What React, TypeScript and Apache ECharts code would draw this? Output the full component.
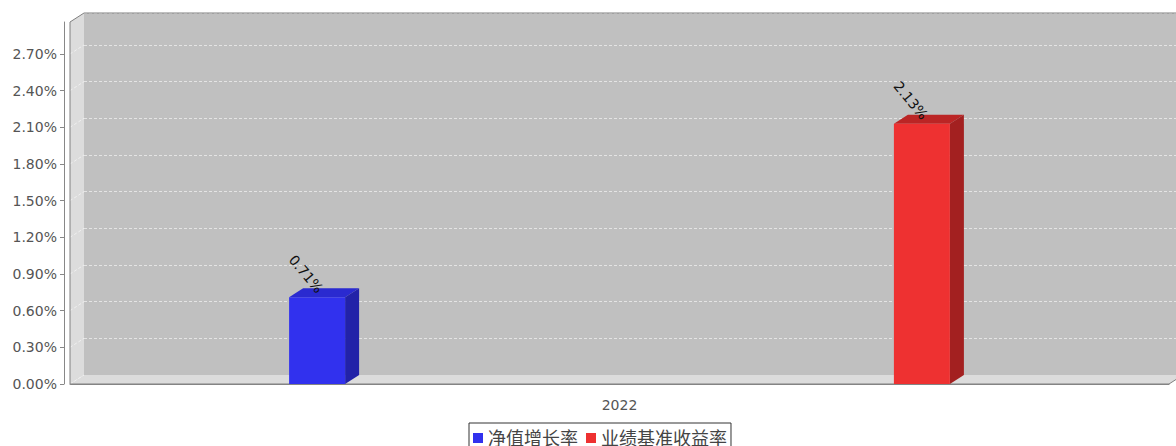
import React, { useEffect, useRef } from "react";
import * as echarts from "echarts";

const categories = ["2022"];
const seriesNames = ["净值增长率", "业绩基准收益率"];
const navGrowth = [0.71];
const benchmark = [2.13];
const yTicks = [0, 0.3, 0.6, 0.9, 1.2, 1.5, 1.8, 2.1, 2.4, 2.7];

const FRONT = ["#3131ee", "#ee3131"];
const TOPC = ["#2a2ad0", "#bb2525"];
const SIDEC = ["#2222a8", "#a32020"];

const DX = 14;
const DY = 9;
const BAR_W = 56;
const BAR_GAP = 9.8; // as ratio of bar width
const FONT = "'DejaVu Sans', 'Noto Sans CJK SC', sans-serif";

export default function App() {
  const ref = useRef<HTMLDivElement>(null);
  useEffect(() => {
    if (!ref.current) return;
    const chart = echarts.init(ref.current, undefined, { renderer: "svg" });
    const gl = 70, gt = 22, gw = 1099, gh = 362;
    const halfSep = (BAR_W + BAR_GAP * BAR_W) / 2;
    const values = [navGrowth, benchmark];

    const barSeries = values.map((vals, i) => ({
      name: seriesNames[i],
      type: "bar",
      xAxisIndex: 0,
      yAxisIndex: 0,
      barWidth: BAR_W,
      barGap: BAR_GAP * 100 + "%",
      z: 5,
      data: vals,
      itemStyle: { color: FRONT[i] },
      label: {
        show: true,
        position: "top",
        distance: 10,
        offset: [5, 0],
        rotate: -50,
        align: "right",
        verticalAlign: "middle",
        formatter: (p: any) => p.value.toFixed(2) + "%",
        color: "#111",
        fontSize: 14,
        fontFamily: FONT,
      },
    }));

    const faceData: any[] = [];
    values.forEach((vals, i) =>
      vals.forEach((v, ci) => faceData.push([ci, v, i]))
    );

    const faces = {
      type: "custom",
      xAxisIndex: 0,
      yAxisIndex: 0,
      silent: true,
      z: 4,
      data: faceData,
      renderItem: (params: any, api: any) => {
        const ci = api.value(0);
        const v = api.value(1);
        const si = api.value(2);
        const top = api.coord([ci, v]);
        const base = api.coord([ci, 0]);
        const cx = top[0] + (si === 0 ? -halfSep : halfSep);
        const x0 = cx - BAR_W / 2;
        const x1 = cx + BAR_W / 2;
        const yT = top[1];
        const yB = base[1];
        return {
          type: "group",
          children: [
            {
              type: "polygon",
              shape: { points: [[x0, yT], [x0 + DX, yT - DY], [x1 + DX, yT - DY], [x1, yT]] },
              style: { fill: TOPC[si] },
            },
            {
              type: "polygon",
              shape: { points: [[x1, yT], [x1 + DX, yT - DY], [x1 + DX, yB - DY], [x1, yB]] },
              style: { fill: SIDEC[si] },
            },
          ],
        };
      },
    };

    const yMax = (gh / 36.67) * 0.3;

    const option: any = {
      animation: false,
      grid: [
        { left: gl, top: gt, width: gw, height: gh, show: false },
        {
          left: gl + DX,
          top: gt - DY,
          width: gw,
          height: gh,
          show: true,
          backgroundColor: "#c0c0c0",
          borderWidth: 0,
          z: 0,
        },
      ],
      legend: {
        data: seriesNames,
        left: 469,
        top: 423,
        padding: [4, 4, 4, 4],
        icon: "rect",
        itemWidth: 10,
        itemHeight: 10,
        itemGap: 8,
        borderColor: "#333",
        borderWidth: 1,
        textStyle: { fontSize: 18, lineHeight: 22, color: "#444", fontFamily: FONT },
      },
      xAxis: [
        {
          type: "category",
          gridIndex: 0,
          data: categories,
          offset: 5,
          axisLine: { lineStyle: { color: "#888" } },
          axisTick: { alignWithLabel: true, length: 2, lineStyle: { color: "#888" } },
          axisLabel: { color: "#555", fontSize: 14, margin: 9, fontFamily: FONT },
        },
        { type: "category", gridIndex: 1, data: categories, show: false },
      ],
      yAxis: [
        {
          type: "value",
          gridIndex: 0,
          min: 0,
          max: yMax,
          interval: 0.3,
          offset: 6,
          axisLine: { show: true, lineStyle: { color: "#888" } },
          axisTick: { show: true, length: 4, lineStyle: { color: "#888" } },
          splitLine: { show: false },
          axisLabel: {
            color: "#555",
            fontSize: 14,
            margin: 7,
            fontFamily: FONT,
            showMaxLabel: false,
            formatter: (v: number) => v.toFixed(2) + "%",
          },
        },
        {
          type: "value",
          gridIndex: 1,
          min: 0,
          max: yMax,
          interval: 0.3,
          axisLine: { show: false },
          axisTick: { show: false },
          axisLabel: { show: false },
          splitLine: { show: true, lineStyle: { color: "#e4e4e4", type: [3, 2], width: 1 } },
        },
      ],
      series: [...barSeries, faces],
    };
    chart.setOption(option);

    // 3D frame: left wall, floor, outline, wall grid diagonals
    const L = gl, T = gt, R = gl + gw, B = gt + gh;
    const wallLines = yTicks.map((t) => {
      const y = chart.convertToPixel({ yAxisIndex: 0 } as any, t) as number;
      return {
        type: "line",
        shape: { x1: L, y1: y, x2: L + DX, y2: y - DY },
        style: { stroke: "#f0f0f0", lineWidth: 1, lineDash: [3, 2] },
        z: 1,
        silent: true,
      };
    });
    chart.setOption({
      graphic: [
        {
          type: "polygon",
          shape: { points: [[L, T], [L + DX, T - DY], [L + DX, B - DY], [L, B]] },
          style: { fill: "#dcdcdc" },
          z: 1,
          silent: true,
        },
        {
          type: "polygon",
          shape: { points: [[L, B], [L + DX, B - DY], [R + DX, B - DY], [R, B]] },
          style: { fill: "#dcdcdc" },
          z: 1,
          silent: true,
        },
        ...wallLines,
        {
          type: "polyline",
          shape: {
            points: [[L, B], [L, T], [L + DX, T - DY], [R + DX, T - DY], [R + DX, B - DY], [R, B], [L, B]],
          },
          style: { stroke: "#808080", fill: null, lineWidth: 1 },
          z: 2,
          silent: true,
        },
      ],
    });

    return () => chart.dispose();
  }, []);
  return (
    <div
      ref={ref}
      style={{ position: "fixed", left: 0, top: 0, width: 1176, height: 446, background: "#fff" }}
    />
  );
}
